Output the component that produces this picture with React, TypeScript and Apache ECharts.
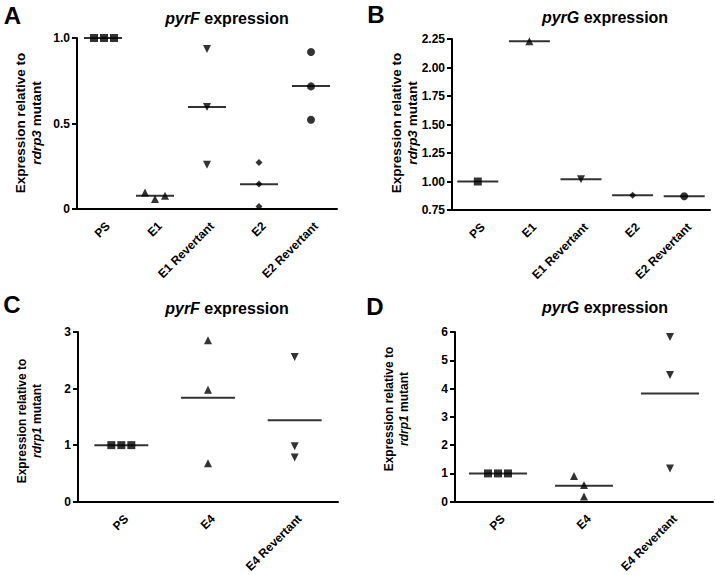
import React, { useEffect, useRef } from "react";
import * as echarts from "echarts";

// ---------- DATA ----------
const catsAB = ["PS", "E1", "E1 Revertant", "E2", "E2 Revertant"];
const catsCD = ["PS", "E4", "E4 Revertant"];

const valuesA = [
  [1.0, 1.0, 1.0],
  [0.097, 0.058, 0.078],
  [0.935, 0.596, 0.259],
  [0.272, 0.146, 0.015],
  [0.918, 0.717, 0.522],
];
const valuesB = [[1.0], [2.23], [1.02], [0.88], [0.87]];
const valuesC = [
  [1.0, 1.0, 1.0],
  [2.854, 1.977, 0.679],
  [2.56, 0.98, 0.78],
];
const valuesD = [
  [1.0, 1.0, 1.0],
  [0.91, 0.59, 0.18],
  [5.82, 4.48, 1.17],
];

const ticksA = { min: 0, max: 1, interval: 0.5 };
const ticksB = { min: 0.75, max: 2.25, interval: 0.25 };
const ticksC = { min: 0, max: 3, interval: 1 };
const ticksD = { min: 0, max: 6, interval: 1 };

// ---------- STYLE ----------
const FONT = '"Liberation Sans", Arial, Helvetica, sans-serif';
const symAB = ["rect", "triangle", "down", "diamond", "circle"];
const symCD = ["rect", "triangle", "down"];
const jitterA = [[-9, 1, 11], [-10, 0, 10], [0, 0, 0], [0, 0, 0], [0, 0, 0]];
const jitterB = [[0], [0], [0], [0], [0]];
const jitterC = [[-10, 0, 10], [0, 0, 0], [0, 0, 0]];
const jitterD = [[-10, 0, 10], [-10, 0, 0], [0, 0, 0]];

function symbolOf(s: string) {
  if (s === "down") return { symbol: "triangle", symbolRotate: 180, symbolSize: 8 };
  if (s === "rect") return { symbol: "rect", symbolRotate: 0, symbolSize: 8 };
  if (s === "diamond") return { symbol: "diamond", symbolRotate: 0, symbolSize: 7 };
  if (s === "circle") return { symbol: "circle", symbolRotate: 0, symbolSize: 8 };
  return { symbol: "triangle", symbolRotate: 0, symbolSize: 8 };
}

function buildPanel(
  i: number,
  cats: string[],
  values: number[][],
  syms: string[],
  jitter: number[][],
  lineW: number,
  ticks: { min: number; max: number; interval: number },
  fmt: (v: number) => string,
  grid: { left: number; top: number; width: number; height: number }
) {
  const pts: any[] = [];
  values.forEach((arr, ci) => {
    const s = symbolOf(syms[ci]);
    arr.forEach((v, k) => {
      pts.push({
        value: [ci, v],
        symbol: s.symbol,
        symbolRotate: s.symbolRotate,
        symbolSize: s.symbolSize,
        symbolOffset: [jitter[ci][k] || 0, 0],
      });
    });
  });
  const means = values.map((arr, ci) => [ci, arr.reduce((a, b) => a + b, 0) / arr.length]);
  return {
    grid: { ...grid },
    xAxis: {
      type: "category",
      gridIndex: i,
      data: cats,
      boundaryGap: true,
      axisLine: { show: true, lineStyle: { color: "#000", width: 2 } },
      axisTick: { show: false },
      axisLabel: {
        interval: 0,
        rotate: 45,
        margin: 20,
        padding: [0, -7, 0, 0],
        color: "#000",
        fontFamily: FONT,
        fontWeight: "bold",
        fontSize: 12,
      },
      splitLine: { show: false },
    },
    yAxis: {
      type: "value",
      gridIndex: i,
      min: ticks.min,
      max: ticks.max,
      interval: ticks.interval,
      axisLine: { show: true, lineStyle: { color: "#000", width: 2 } },
      axisTick: { show: true, length: 5, lineStyle: { color: "#000", width: 2 } },
      axisLabel: {
        margin: 7,
        color: "#000",
        fontFamily: FONT,
        fontWeight: "bold",
        fontSize: 12,
        formatter: fmt,
      },
      splitLine: { show: false },
    },
    series: [
      {
        type: "scatter",
        xAxisIndex: i,
        yAxisIndex: i,
        data: means,
        symbol: "rect",
        symbolSize: [lineW, 2],
        itemStyle: { color: "#000" },
        z: 2,
      },
      {
        type: "scatter",
        xAxisIndex: i,
        yAxisIndex: i,
        data: pts,
        itemStyle: { color: "#000" },
        z: 3,
      },
    ],
  };
}

function titleText(x: number, y: number, gene: string) {
  return {
    type: "text",
    x,
    y,
    style: {
      text: `{i|${gene}}{b| expression}`,
      align: "center",
      verticalAlign: "middle",
      rich: {
        i: { fontFamily: FONT, fontSize: 16, fontWeight: "bold", fontStyle: "italic", fill: "#000", color: "#000" },
        b: { fontFamily: FONT, fontSize: 16, fontWeight: "bold", fill: "#000", color: "#000" },
      },
    },
  };
}

function yName(x: number, y: number, mutant: string, size: number, lh: number) {
  return {
    type: "text",
    x,
    y,
    rotation: Math.PI / 2,
    style: {
      text: `{n|Expression relative to}\n{i|${mutant}}{n| mutant}`,
      align: "center",
      verticalAlign: "middle",
      rich: {
        n: { fontFamily: FONT, fontSize: size, fontWeight: "bold", lineHeight: lh, fill: "#000", color: "#000" },
        i: { fontFamily: FONT, fontSize: size, fontWeight: "bold", fontStyle: "italic", lineHeight: lh, fill: "#000", color: "#000" },
      },
    },
  };
}

function letter(x: number, y: number, t: string) {
  return {
    type: "text",
    x,
    y,
    style: {
      text: t,
      align: "center",
      verticalAlign: "middle",
      font: `bold 24px ${FONT}`,
      fill: "#000",
    },
  };
}

export default function App() {
  const ref = useRef<HTMLDivElement>(null);
  useEffect(() => {
    if (!ref.current) return;
    const chart = echarts.init(ref.current, undefined, { renderer: "svg" });
    const f1 = (v: number) => (v === 0 ? "0" : v.toFixed(1));
    const f2 = (v: number) => v.toFixed(2);
    const f0 = (v: number) => String(Math.round(v));
    const panels = [
      buildPanel(0, catsAB, valuesA, symAB, jitterA, 38, ticksA, f1, { left: 77, top: 38, width: 260, height: 171 }),
      buildPanel(1, catsAB, valuesB, symAB, jitterB, 41, ticksB, f2, { left: 452, top: 39, width: 258, height: 171 }),
      buildPanel(2, catsCD, valuesC, symCD, jitterC, 54, ticksC, f0, { left: 78, top: 332, width: 260, height: 171 }),
      buildPanel(3, catsCD, valuesD, symCD, jitterD, 58, ticksD, f0, { left: 455, top: 332, width: 258, height: 171 }),
    ];
    chart.setOption({
      animation: false,
      backgroundColor: "#fff",
      grid: panels.map((p) => p.grid),
      xAxis: panels.map((p) => p.xAxis),
      yAxis: panels.map((p) => p.yAxis),
      series: panels.flatMap((p) => p.series),
      graphic: [
        letter(12.5, 15, "A"),
        letter(376, 14, "B"),
        letter(12, 304, "C"),
        letter(375, 306, "D"),
        titleText(227, 18, "pyrF"),
        titleText(605, 17, "pyrG"),
        titleText(227, 308, "pyrF"),
        titleText(605, 307, "pyrG"),
        yName(28.5, 123, "rdrp3", 13.5, 16),
        yName(404.5, 123, "rdrp3", 13.5, 16),
        yName(29, 421, "rdrp1", 12, 15),
        yName(396, 409, "rdrp1", 12, 15),
      ],
    });
    return () => chart.dispose();
  }, []);
  return (
    <div
      ref={ref}
      style={{ position: "absolute", left: 0, top: 0, width: 715, height: 575, background: "#fff" }}
    />
  );
}
